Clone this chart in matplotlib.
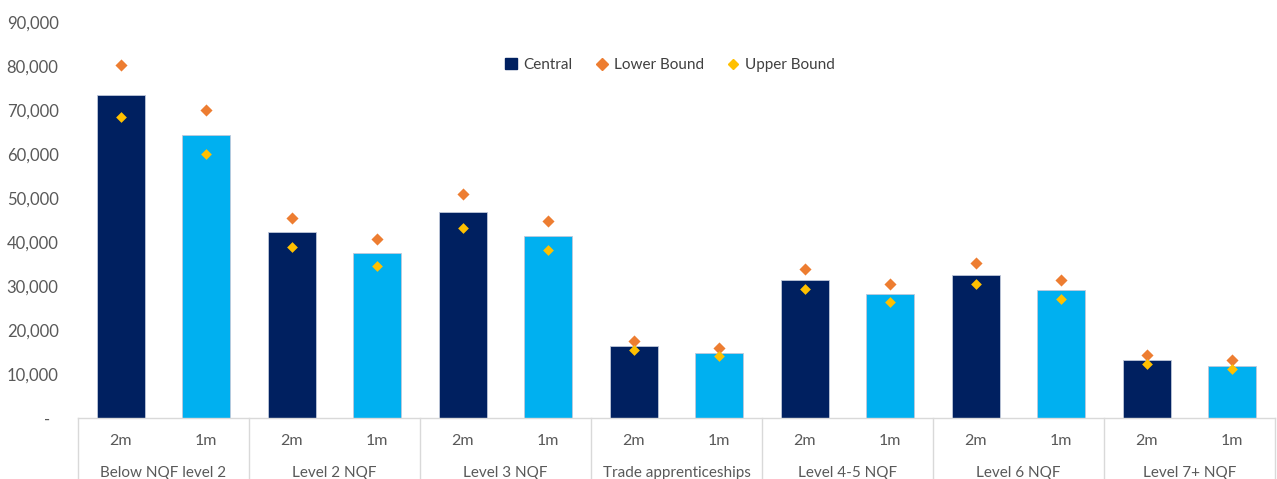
import numpy as np
import matplotlib
matplotlib.use("Agg")
from matplotlib import pyplot as plt
import matplotlib.ticker as ticker
from matplotlib.lines import Line2D
from matplotlib.patches import Patch

groups = ["Below NQF level 2", "Level 2 NQF", "Level 3 NQF", "Trade apprenticeships",
          "Level 4-5 NQF", "Level 6 NQF", "Level 7+ NQF"]
sub_labels = ["2m", "1m"]

central = [73600, 64500, 42300, 37700, 46800, 41400, 16400, 14850,
           31400, 28300, 32600, 29100, 13300, 12000]
lower_bound = [80400, 70200, 45600, 40700, 50900, 44900, 17600, 15900,
               33900, 30450, 35400, 31500, 14450, 13200]
upper_bound = [68600, 60000, 38900, 34600, 43300, 38200, 15500, 14250,
               29300, 26400, 30450, 27200, 12450, 11250]

navy = "#002060"
light_blue = "#00B0F0"
orange = "#ED7D31"
yellow = "#FFC000"
text_col = "#595959"

plt.rcParams['font.family'] = ['Lato', 'DejaVu Sans']

fig = plt.figure(figsize=(12.77, 4.79), dpi=100)
ax = fig.add_axes([0.0611, 0.1267, 0.9373, 0.8263])

x = np.arange(len(central))
colors = [navy if i % 2 == 0 else light_blue for i in x]
ax.bar(x, central, width=0.56, color=colors, edgecolor="#BFC8DA", linewidth=0.6, zorder=2)
ax.scatter(x, lower_bound, marker="D", s=38, color=orange, zorder=3, linewidths=0)
ax.scatter(x, upper_bound, marker="D", s=30, color=yellow, zorder=3, linewidths=0)

ax.set_xlim(-0.5, len(central) - 0.5)
ax.set_ylim(0, 90000)
ax.set_yticks(np.arange(0, 90001, 10000))


def fmt(v, pos=None):
    if v == 0:
        return "-  "
    return "{:,.0f}".format(v)


ax.yaxis.set_major_formatter(ticker.FuncFormatter(fmt))
ax.tick_params(axis="y", length=0, pad=14, labelsize=12, labelcolor=text_col)
ax.set_xticks([])

for s in ["top", "right", "left"]:
    ax.spines[s].set_visible(False)
ax.spines["bottom"].set_color("#D9D9D9")
ax.spines["bottom"].set_linewidth(1)

# two-level category labels
trans = ax.get_xaxis_transform()
for i in x:
    ax.text(i, -0.057, sub_labels[i % 2], transform=trans, ha="center", va="center",
            fontsize=11.5, color=text_col)
for g, name in enumerate(groups):
    ax.text(2 * g + 0.5, -0.137, name, transform=trans, ha="center", va="center",
            fontsize=11, color=text_col)
for b in np.arange(-0.5, len(central), 2):
    ax.plot([b, b], [0, -0.2], transform=trans, color="#D9D9D9", linewidth=1, clip_on=False)

handles = [Patch(facecolor=navy, edgecolor=navy, label="Central"),
           Line2D([], [], marker="D", linestyle="none", color=orange, markersize=6, label="Lower Bound"),
           Line2D([], [], marker="D", linestyle="none", color=yellow, markersize=5.5, label="Upper Bound")]
leg = ax.legend(handles=handles, loc="center", bbox_to_anchor=(0.4946, 0.893), ncol=3, frameon=False,
                fontsize=11, handlelength=0.8, handletextpad=0.4, columnspacing=1.5)
for t in leg.get_texts():
    t.set_color("#404040")

fig.savefig("out.png", dpi=100)
